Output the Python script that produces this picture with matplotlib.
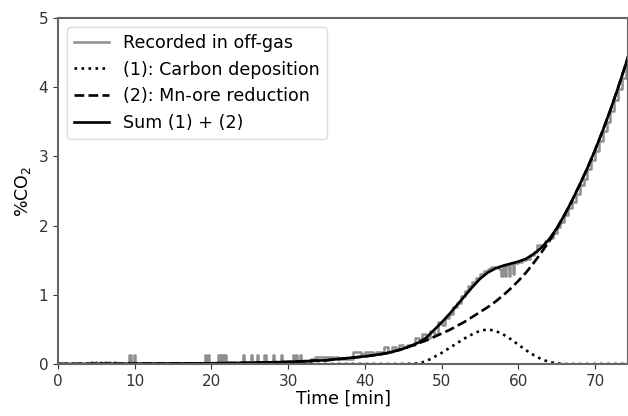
import numpy as np
import matplotlib
matplotlib.use('Agg')
import matplotlib.pyplot as plt

# Model curves [min, %CO2]
t_model = [0, 10, 20, 25, 30, 35, 40, 41, 42, 43, 44, 45, 46, 47, 48, 49,
           50, 51, 52, 53, 54, 55, 56, 57, 58, 59, 60, 61, 62, 63, 64, 65,
           66, 67, 68, 69, 70, 71, 72, 73, 74, 75]
mn_ore = [0.0, 0.005, 0.01, 0.018, 0.03, 0.055, 0.11, 0.125, 0.14, 0.16, 0.19, 0.22, 0.26, 0.30, 0.34, 0.39,
          0.44, 0.49, 0.55, 0.61, 0.68, 0.75, 0.82, 0.90, 0.99, 1.09, 1.20, 1.32, 1.46, 1.61, 1.77, 1.95,
          2.15, 2.36, 2.59, 2.83, 3.09, 3.37, 3.67, 3.99, 4.33, 4.69]
carbon = [0.0, 0.0, 0.0, 0.0, 0.0, 0.0, 0.0, 0.0, 0.0, 0.0, 0.0, 0.0, 0.003, 0.01, 0.04, 0.10,
          0.16, 0.23, 0.30, 0.37, 0.43, 0.48, 0.50, 0.48, 0.43, 0.36, 0.28, 0.20, 0.13, 0.07, 0.03, 0.01,
          0.0, 0.0, 0.0, 0.0, 0.0, 0.0, 0.0, 0.0, 0.0, 0.0]

# Recorded off-gas signal (step data)
rec_t = [4.0, 4.3, 4.4, 4.9, 5.0, 5.5, 5.6, 6.1, 6.2, 6.7, 6.8, 7.3, 7.4,
         9.3, 9.45, 9.9, 10.05,
         19.1, 19.25, 19.5, 19.65, 20.9, 21.05, 21.3, 21.45, 21.7, 21.85,
         24.1, 24.25, 25.2, 25.35, 25.9, 26.05, 26.9, 27.05, 28.0, 28.15, 29.1, 29.25,
         30.6, 30.75, 31.0, 31.15, 31.5, 31.65, 32.0,
         33.0, 33.5, 34.0, 34.5, 35.0, 35.5, 36.0, 36.5, 37.0, 37.5, 38.0, 38.5,
         39.0, 39.5, 40.0, 40.5, 41.0, 41.5, 42.0, 42.5, 43.0, 43.5, 44.0, 44.5,
         45.0, 45.5, 46.0, 46.5, 47.0, 47.5, 48.0, 48.5, 49.0, 49.5, 50.0, 50.5,
         51.0, 51.5, 52.0, 52.5, 53.0, 53.5, 54.0, 54.5, 55.0, 55.5, 56.0, 56.5,
         57.0, 57.5, 57.8, 57.95, 58.3, 58.45, 58.8, 58.95, 59.3, 59.45, 60.0, 60.5,
         61.0, 61.5, 62.0, 62.5, 63.0, 63.5, 64.0, 64.5, 65.0, 65.5, 66.0, 66.5,
         67.0, 67.5, 68.0, 68.5, 69.0, 69.5, 70.0, 70.5, 71.0, 71.5, 72.0, 72.5,
         73.0, 73.5, 74.0, 74.5, 75.0]
rec_v = [0.0, 0.03, 0.0, 0.03, 0.0, 0.03, 0.0, 0.03, 0.0, 0.03, 0.0, 0.03, 0.0,
         0.13, 0.0, 0.13, 0.0,
         0.13, 0.0, 0.13, 0.0, 0.13, 0.0, 0.13, 0.0, 0.13, 0.0,
         0.13, 0.0, 0.13, 0.0, 0.13, 0.0, 0.13, 0.0, 0.13, 0.0, 0.13, 0.0,
         0.13, 0.03, 0.13, 0.03, 0.13, 0.03, 0.03,
         0.07, 0.10, 0.10, 0.10, 0.10, 0.10, 0.10, 0.07, 0.07, 0.07, 0.07, 0.17,
         0.17, 0.14, 0.17, 0.17, 0.14, 0.17, 0.17, 0.24, 0.17, 0.24, 0.20, 0.27,
         0.24, 0.27, 0.27, 0.37, 0.34, 0.44, 0.37, 0.47, 0.44, 0.60, 0.57, 0.67,
         0.72, 0.82, 0.88, 0.98, 1.05, 1.12, 1.18, 1.25, 1.30, 1.35, 1.37, 1.40,
         1.40, 1.38, 1.27, 1.42, 1.27, 1.41, 1.27, 1.44, 1.30, 1.46, 1.47, 1.50,
         1.52, 1.57, 1.62, 1.72, 1.70, 1.78, 1.82, 1.90, 1.98, 2.05, 2.15, 2.25,
         2.34, 2.45, 2.58, 2.68, 2.82, 2.95, 3.08, 3.22, 3.36, 3.50, 3.66, 3.82,
         3.98, 4.14, 4.32, 4.50, 4.68]

t_model = np.array(t_model)
mn_ore = np.array(mn_ore)
carbon = np.array(carbon)
total = carbon + mn_ore

fig = plt.figure(figsize=(6.28, 4.16), dpi=100)
ax = fig.add_axes([0.0924, 0.125, 0.9076, 0.8317])

ax.plot(rec_t, rec_v, color='#8f8f8f', lw=1.8, drawstyle='steps-post', label='Recorded in off-gas')
ax.plot(t_model, carbon, color='black', lw=1.9, ls=':', label='(1): Carbon deposition')
ax.plot(t_model, mn_ore, color='black', lw=1.9, ls='--', label='(2): Mn-ore reduction')
ax.plot(t_model, total, color='black', lw=1.9, label='Sum (1) + (2)')

ax.set_xlim(0, 74.3)
ax.set_ylim(0, 5)
ax.set_xticks([0, 10, 20, 30, 40, 50, 60, 70])
ax.set_yticks([0, 1, 2, 3, 4, 5])
ax.set_xlabel('Time [min]', fontsize=12.5, labelpad=1)
ax.set_ylabel('%CO$_2$', fontsize=12.5)
ax.tick_params(labelsize=11, colors='#333333')
for s in ax.spines.values():
    s.set_color('#666666')
    s.set_linewidth(1.5)

ax.legend(loc='upper left', fontsize=12.6, handlelength=2.0, framealpha=1,
          edgecolor='#dddddd', borderaxespad=0.5)

fig.savefig('out.png', dpi=100)
